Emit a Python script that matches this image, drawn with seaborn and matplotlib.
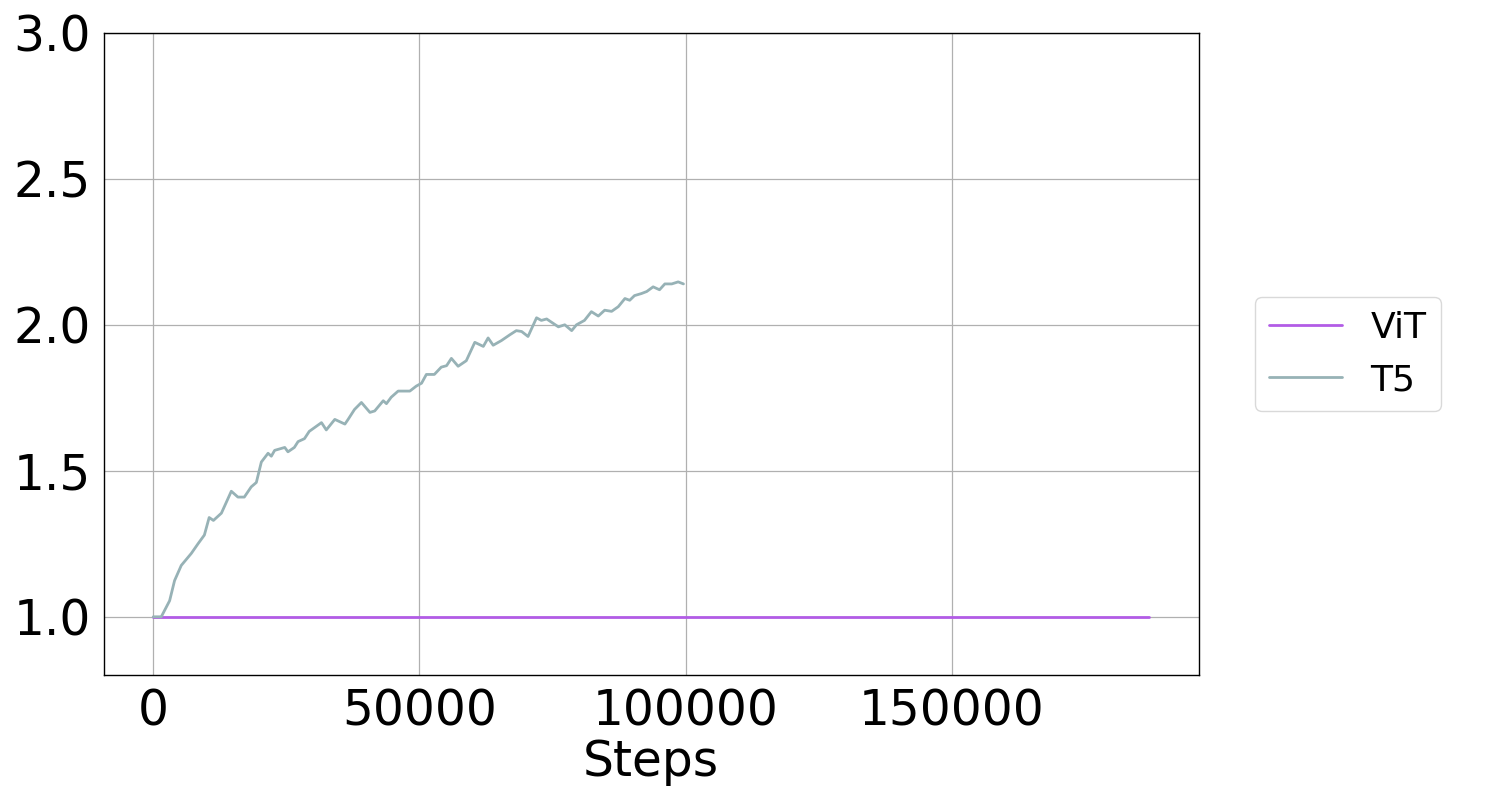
import numpy as np
import pandas as pd
import seaborn as sns
import matplotlib.pyplot as plt

sns.set_theme(style="whitegrid")
plt.rcParams['font.family'] = ['DejaVu Sans']
plt.rcParams['text.color'] = 'black'
plt.rcParams['axes.labelcolor'] = 'black'
plt.rcParams['xtick.color'] = 'black'
plt.rcParams['ytick.color'] = 'black'

# ViT stays flat at 1.0 for the whole run
vit_steps = [0, 187000]
vit_vals = [1.0, 1.0]

# T5 curve
t5_steps = [0, 1500, 3070, 4000, 5260, 7140, 8400, 9600, 10500, 11300, 12800,
            14660, 15900, 17100, 18400, 19360, 20300, 21560, 22180, 22800,
            24700, 25300, 26500, 27200, 28400, 29300, 31600, 32500, 34100,
            36000, 36600, 37800, 39100, 40700, 41600, 43200, 43800, 44700,
            46000, 48200, 49400, 50400, 51300, 52800, 54100, 55100, 56000,
            57270, 58800, 60400, 62000, 62900, 63850, 65400, 67000, 68200,
            69200, 70400, 72000, 72900, 73900, 76100, 77300, 78600, 79500,
            81000, 82300, 83600, 84800, 86100, 87350, 88600, 89500, 90400,
            91700, 92700, 93900, 95100, 96100, 97400, 98600, 99600]
t5_vals = [1.0, 1.0, 1.055, 1.124, 1.176, 1.217, 1.25, 1.28, 1.34, 1.33, 1.355,
           1.43, 1.41, 1.41, 1.445, 1.46, 1.53, 1.56, 1.55, 1.57,
           1.58, 1.565, 1.58, 1.60, 1.61, 1.635, 1.665, 1.64, 1.676,
           1.66, 1.676, 1.71, 1.734, 1.70, 1.705, 1.74, 1.73, 1.752,
           1.773, 1.773, 1.79, 1.80, 1.83, 1.83, 1.855, 1.86, 1.885,
           1.858, 1.877, 1.94, 1.926, 1.955, 1.93, 1.946, 1.966, 1.98,
           1.977, 1.96, 2.024, 2.015, 2.02, 1.993, 2.0, 1.98, 2.0,
           2.015, 2.045, 2.03, 2.05, 2.046, 2.062, 2.09, 2.084, 2.10,
           2.107, 2.114, 2.13, 2.12, 2.14, 2.14, 2.147, 2.14]

df = pd.concat([
    pd.DataFrame({"Steps": vit_steps, "value": vit_vals, "model": "ViT"}),
    pd.DataFrame({"Steps": t5_steps, "value": t5_vals, "model": "T5"}),
])
palette = {"ViT": "#b25ce6", "T5": "#97b2b6"}

fig = plt.figure(figsize=(15, 8), dpi=100)
ax = fig.add_axes([0.069, 0.156, 0.73, 0.803])
sns.lineplot(data=df, x="Steps", y="value", hue="model", palette=palette,
             linewidth=2.0, ax=ax)

ax.set_ylim(0.8, 3.0)
ax.set_yticks([1.0, 1.5, 2.0, 2.5, 3.0])
ax.set_xticks([0, 50000, 100000, 150000])
ax.tick_params(axis='both', labelsize=35, length=0, pad=9)
ax.set_xlabel('Steps', fontsize=35, labelpad=2)
ax.set_ylabel('')
ax.grid(True, color='#b0b0b0', linewidth=0.9)
for s in ax.spines.values():
    s.set_color('black')
    s.set_linewidth(1.0)

ax.legend(loc='center left', bbox_to_anchor=(1.035, 0.5), fontsize=26,
          frameon=True, edgecolor='#d0d0d0', handlelength=2.0)

plt.savefig('out.png', dpi=100)
